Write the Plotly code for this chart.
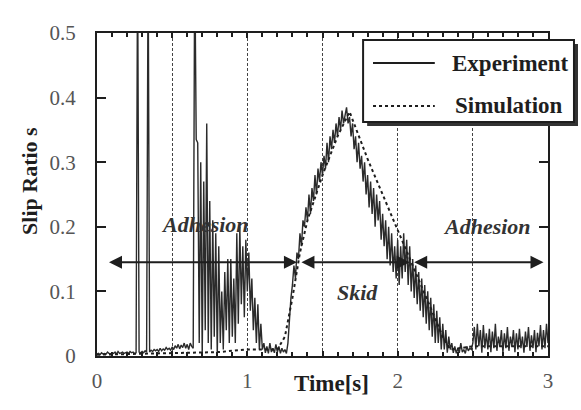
import numpy as np
import plotly.graph_objects as go

# Measured slip ratio, sampled every 10 ms from 0 to 3 s
sample_period = 0.01
experiment_slip = [
    0.003, 0.004, 0.002, 0.005, 0.003, 0.004, 0.003, 0.006, 0.004, 0.003,
    0.005, 0.004, 0.006, 0.003, 0.007, 0.004, 0.005, 0.006, 0.004, 0.005,
    0.006, 0.004, 0.007, 0.005, 0.006, 0.004, 0.005, 0.62, 0.006, 0.005,
    0.007, 0.005, 0.008, 0.006, 0.62, 0.006, 0.009, 0.007, 0.010, 0.008,
    0.010, 0.007, 0.012, 0.008, 0.011, 0.009, 0.013, 0.010, 0.012, 0.009,
    0.014, 0.010, 0.016, 0.012, 0.018, 0.011, 0.017, 0.013, 0.020, 0.012,
    0.018, 0.010, 0.020, 0.015, 0.012, 0.62, 0.335, 0.33, 0.02, 0.30,
    0.0, 0.27, 0.04, 0.36, 0.02, 0.24, 0.01, 0.21, 0.03, 0.19,
    0.0, 0.17, 0.02, 0.10, 0.01, 0.13, 0.04, 0.15, 0.02, 0.15,
    0.03, 0.12, 0.02, 0.19, 0.05, 0.20, 0.08, 0.17, 0.06, 0.18,
    0.10, 0.16, 0.07, 0.12, 0.04, 0.09, 0.02, 0.08, 0.01, 0.05,
    0.01, 0.02, 0.005, 0.015, 0.004, 0.02, 0.006, 0.012, 0.005, 0.018,
    0.006, 0.015, 0.004, 0.012, 0.006, 0.010, 0.004, 0.02, 0.06, 0.09,
    0.11, 0.14, 0.12, 0.16, 0.15, 0.19, 0.17, 0.21, 0.20, 0.23,
    0.21, 0.25, 0.22, 0.26, 0.24, 0.28, 0.25, 0.29, 0.27, 0.30,
    0.28, 0.31, 0.29, 0.33, 0.30, 0.34, 0.32, 0.35, 0.33, 0.36,
    0.34, 0.37, 0.35, 0.38, 0.36, 0.37, 0.385, 0.36, 0.37, 0.34,
    0.36, 0.32, 0.34, 0.30, 0.33, 0.29, 0.31, 0.27, 0.30, 0.25,
    0.28, 0.23, 0.27, 0.22, 0.26, 0.20, 0.25, 0.21, 0.24, 0.18,
    0.22, 0.17, 0.21, 0.15, 0.20, 0.14, 0.19, 0.13, 0.17, 0.12,
    0.18, 0.11, 0.17, 0.12, 0.19, 0.13, 0.18, 0.11, 0.17, 0.10,
    0.15, 0.09, 0.14, 0.08, 0.13, 0.07, 0.12, 0.06, 0.11, 0.05,
    0.10, 0.04, 0.09, 0.03, 0.08, 0.02, 0.07, 0.02, 0.06, 0.01,
    0.05, 0.01, 0.04, 0.005, 0.03, 0.01, 0.02, 0.005, 0.015, 0.004,
    0.012, 0.005, 0.02, 0.006, 0.010, 0.004, 0.015, 0.008, 0.012, 0.010,
    0.02, 0.045, 0.01, 0.05, 0.015, 0.04, 0.005, 0.048, 0.012, 0.035,
    0.01, 0.042, 0.006, 0.038, 0.012, 0.05, 0.008, 0.03, 0.015, 0.04,
    0.005, 0.035, 0.012, 0.045, 0.008, 0.03, 0.015, 0.04, 0.006, 0.035,
    0.01, 0.042, 0.012, 0.03, 0.005, 0.038, 0.014, 0.045, 0.008, 0.032,
    0.012, 0.04, 0.006, 0.036, 0.015, 0.048, 0.01, 0.04, 0.012, 0.05,
    0.02,
]
time_s = np.round(np.arange(len(experiment_slip)) * sample_period, 2)

# Simulated slip ratio
sim_time = [0.0, 0.5, 0.8, 1.0, 1.2, 1.25, 1.3, 1.35, 1.4, 1.5, 1.6, 1.68,
            1.8, 1.9, 2.0, 2.1, 2.2, 2.3, 2.35, 2.5, 3.0]
sim_slip = [0.002, 0.004, 0.006, 0.010, 0.010, 0.03, 0.09, 0.16, 0.21, 0.28,
            0.34, 0.378, 0.305, 0.25, 0.195, 0.14, 0.085, 0.03, 0.01, 0.015, 0.015]

# Operating phases: (label, start, end)
phases = [("Adhesion", 0.07, 1.33), ("Skid", 1.35, 2.08), ("Adhesion", 2.10, 2.97)]
phase_level = 0.145

x_ticks = [0, 0.5, 1, 1.5, 2, 2.5, 3]
x_tick_text = ["0", "", "1", "", "2", "", "3"]
y_ticks = [0, 0.1, 0.2, 0.3, 0.4, 0.5]
y_tick_text = ["0", "0.1", "0.2", "0.3", "0.4", "0.5"]

SERIF = "Liberation Serif, Times New Roman, serif"
INK = "#1e1e1e"

fig = go.Figure()
fig.add_trace(go.Scatter(x=time_s, y=experiment_slip, mode="lines",
                         line=dict(color="#2b2b2b", width=1.4),
                         name="Experiment", showlegend=False))
fig.add_trace(go.Scatter(x=sim_time, y=sim_slip, mode="lines",
                         line=dict(color=INK, width=2, dash="dot"),
                         name="Simulation", showlegend=False))

annotations = []
label_pos = [(0.72, 0.203), (1.73, 0.098), (2.595, 0.200)]
for (label, t0, t1), (lx, ly) in zip(phases, label_pos):
    annotations.append(dict(
        x=t1, y=phase_level, ax=t0, ay=phase_level, xref="x", yref="y",
        axref="x", ayref="y", text="", showarrow=True, arrowside="end+start",
        arrowhead=2, startarrowhead=2, arrowsize=1.3, startarrowsize=1.3,
        arrowwidth=2, arrowcolor=INK, standoff=0, startstandoff=0))
    annotations.append(dict(
        x=lx, y=ly, xref="x", yref="y", xanchor="center", yanchor="middle",
        text=f"<b><i>{label}</i></b>", showarrow=False,
        font=dict(family=SERIF, size=22, color="#333")))

# Axis titles
annotations.append(dict(x=-0.1486, y=0.542, xref="paper", yref="paper",
                        xanchor="center", yanchor="middle",
                        text="<b>Slip Ratio s</b>", textangle=-90, showarrow=False,
                        font=dict(family=SERIF, size=22, color=INK)))
annotations.append(dict(x=0.519, y=-0.0836, xref="paper", yref="paper",
                        xanchor="center", yanchor="middle",
                        text="<b>Time[s]</b>", showarrow=False,
                        font=dict(family=SERIF, size=23, color=INK)))

# Legend box with drop shadow
shapes = [
    dict(type="rect", xref="paper", yref="paper", x0=0.599, x1=1.0665,
         y0=0.712, y1=0.966, fillcolor="#333", line=dict(width=0), layer="above"),
    dict(type="rect", xref="paper", yref="paper", x0=0.590, x1=1.0576,
         y0=0.7245, y1=0.978, fillcolor="white", line=dict(color=INK, width=2),
         layer="above"),
    dict(type="line", xref="paper", yref="paper", x0=0.612, x1=0.749,
         y0=0.907, y1=0.907, line=dict(color=INK, width=2), layer="above"),
    dict(type="line", xref="paper", yref="paper", x0=0.612, x1=0.749,
         y0=0.774, y1=0.774, line=dict(color=INK, width=2, dash="dot"), layer="above"),
]
annotations.append(dict(x=0.783, y=0.907, xref="paper", yref="paper",
                        xanchor="left", yanchor="middle",
                        text="<b>Experiment</b>", showarrow=False,
                        font=dict(family=SERIF, size=23, color=INK)))
annotations.append(dict(x=0.789, y=0.774, xref="paper", yref="paper",
                        xanchor="left", yanchor="middle",
                        text="<b>Simulation</b>", showarrow=False,
                        font=dict(family=SERIF, size=23, color=INK)))

fig.update_layout(
    width=581, height=410,
    margin=dict(l=97, r=33, t=33, b=54),
    paper_bgcolor="white", plot_bgcolor="white",
    showlegend=False,
    annotations=annotations, shapes=shapes,
    xaxis=dict(range=[0, 3], tickvals=x_ticks, ticktext=x_tick_text,
               showline=True, linecolor=INK, linewidth=2, mirror="ticks",
               ticks="inside", ticklen=5, tickcolor=INK, tickwidth=1.5,
               showgrid=True, gridcolor="#444", gridwidth=1, griddash="3px,2px",
               zeroline=False, ticklabelstandoff=5,
               tickfont=dict(family=SERIF, size=21, color="#555"),
               minor=dict(dtick=0.1, ticks="inside", ticklen=4, tickcolor=INK,
                          tickwidth=1.5, showgrid=False)),
    yaxis=dict(range=[0, 0.5], tickvals=y_ticks, ticktext=y_tick_text,
               showline=True, linecolor=INK, linewidth=2, mirror="ticks",
               ticks="inside", ticklen=9, tickcolor=INK, tickwidth=1.5,
               showgrid=False, zeroline=False, ticklabelstandoff=15,
               tickfont=dict(family=SERIF, size=21, color="#555")),
)

fig.write_html("out.html")
